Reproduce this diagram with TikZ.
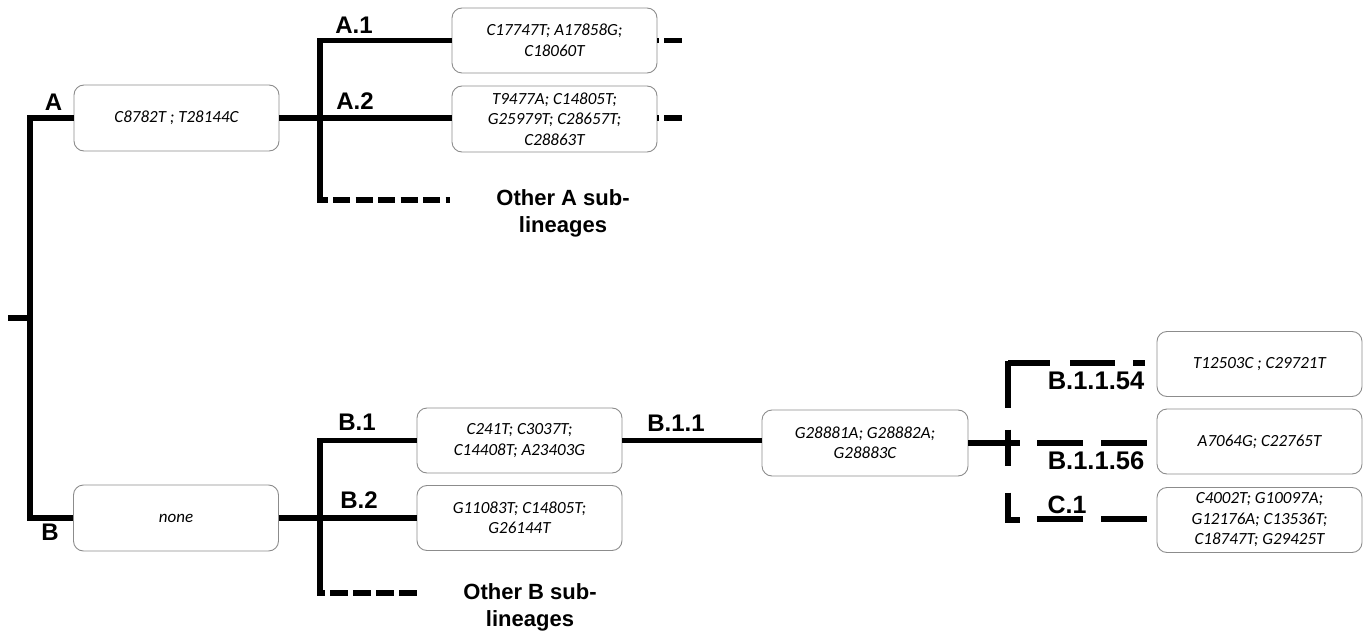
\documentclass[tikz,border=0pt]{standalone}
\usepackage{fontspec}
\setmainfont{Liberation Sans}
\newfontfamily\boxfont{Carlito}
\definecolor{boxgray}{RGB}{140,140,140}
\begin{document}
\begin{tikzpicture}[x=1pt,y=-1pt,
  mbox/.style={draw=boxgray, line width=0.9pt, rounded corners=10pt, minimum width=205pt, minimum height=65pt, inner sep=0pt, align=center, font=\boxfont\itshape\fontsize{17}{20.5}\selectfont},
  br/.style={line width=5.5pt, black},
  lab/.style={font=\bfseries\fontsize{24}{28}\selectfont, inner sep=0pt},
  oth/.style={font=\bfseries\fontsize{22}{27}\selectfont, align=center, inner sep=0pt}]
\useasboundingbox (0,0) rectangle (1368,639);

% boxes
\node[mbox, minimum height=66pt] (bA) at (176.5,118) {C8782T ; T28144C};
\node[mbox] (bA1) at (554.5,40.5) {C17747T; A17858G;\\C18060T};
\node[mbox, minimum height=66pt] (bA2) at (554.5,119) {T9477A; C14805T;\\G25979T; C28657T;\\C28863T};
\node[mbox, minimum height=66pt] (bB) at (176,518) {none};
\node[mbox] (bB1) at (519.5,440.5) {C241T; C3037T;\\C14408T; A23403G};
\node[mbox] (bB2) at (519.5,518) {G11083T; C14805T;\\G26144T};
\node[mbox, minimum width=206pt, minimum height=66pt] (bB11) at (865,443) {G28881A; G28882A;\\G28883C};
\node[mbox] (b54) at (1259.5,364) {T12503C ; C29721T};
\node[mbox] (b56) at (1259.5,441.5) {A7064G; C22765T};
\node[mbox] (bC1) at (1259.5,520) {C4002T; G10097A;\\G12176A; C13536T;\\C18747T; G29425T};

% labels
\node[lab] (lA) at (53.5,102) {A};
\node[lab] (lB) at (50,532) {B};
\node[lab] (lA1) at (354,25) {A.1};
\node[lab] (lA2) at (355,101) {A.2};
\node[lab] (lB1) at (357,422) {B.1};
\node[lab] (lB2) at (359,500) {B.2};
\node[lab] (lB11) at (676,423) {B.1.1};
\node[lab, font=\bfseries\fontsize{25.5}{28}\selectfont] (l54) at (1096,381) {B.1.1.54};
\node[lab, font=\bfseries\fontsize{25.5}{28}\selectfont] (l56) at (1096,461) {B.1.1.56};
\node[lab, font=\bfseries\fontsize{25}{28}\selectfont] (lC1) at (1067,505) {C.1};
\node[oth] (oA) at (563,213) {Other A sub-\\lineages};
\node[oth] (oB) at (530,607) {Other B sub-\\lineages};

% junction coordinates
\coordinate (r0) at (8,318);
\coordinate (j0) at (30,318);
\coordinate (jAb) at (320,200);
\coordinate (jAf) at (328,200);
\coordinate (dA0) at (333,200);
\coordinate (dA1) at (450,200);
\coordinate (jBb) at (320,593);
\coordinate (jBf) at (325,593);
\coordinate (dB0) at (330,593);
\coordinate (dB1) at (418,593);
\coordinate (jR) at (1020,443);

% root
\draw[br] (r0) -- (j0);
\draw[br] (bA.west) -| (j0) |- (bB.west);

% A subtree
\draw[br] (bA.east) -- (bA2.west |- bA.east);
\draw[br] (bA1.west) -| (jAb) -- (jAf);
\draw[br, dash pattern=on 17pt off 5.5pt] (dA0) -- (dA1);
\draw[br, dash pattern=on 2pt off 5pt on 18pt off 30pt] (bA1.east) -- ++(26,0);
\draw[br, dash pattern=on 2pt off 5pt on 18pt off 30pt] (bA2.east |- bA.east) -- ++(26,0);

% B subtree
\draw[br] (bB.east) -- (bB2.west);
\draw[br] (bB1.west) -| (jBb) -- (jBf);
\draw[br, dash pattern=on 18pt off 5pt] (dB0) -- (dB1);
\draw[br] (bB1.east) -- (bB11.west |- bB1.east);

% B.1.1 subtree
\draw[br] (bB11.east) -- (jR);
\draw[br, dash pattern=on 47.5pt off 21.5pt on 36pt off 27pt on 40pt] (1008,360.5) -- (1008,522.5);
\draw[br, dash pattern=on 42pt off 20pt on 45pt off 18pt on 12pt off 50pt] (1008,363) -- (b54.west |- 0,363);
\draw[br] (1008,520) -- (1020,520);
\draw[br, dash pattern=on 46pt off 18pt on 46pt off 30pt] (1037,443) -- (b56.west |- 0,443);
\draw[br, dash pattern=on 46pt off 18pt on 46pt off 30pt] (1037,519) -- (bC1.west |- 0,519);
\end{tikzpicture}
\end{document}
